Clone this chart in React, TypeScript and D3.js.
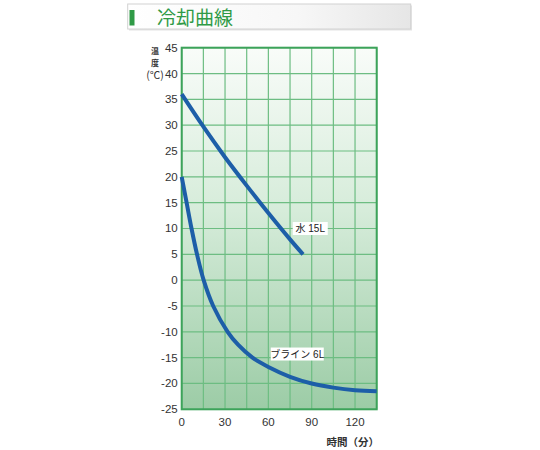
import { useEffect, useRef } from 'react'
import * as d3 from 'd3'

// time (min) / temperature (°C)
const waterTime = [0, 15, 30, 45, 60, 75, 84]
const waterTemp = [36, 29.7, 23.8, 18.3, 13, 7.9, 5]
const brineTime = [0, 3.4, 6.8, 10.6, 15.2, 21.8, 31.8, 39, 49, 60, 75, 90, 105, 120, 135]
const brineTemp = [20, 15, 10, 5, 0, -5, -10, -12.5, -15, -16.8, -18.7, -20, -20.8, -21.3, -21.5]

const xTicks = [0, 30, 60, 90, 120]
const yTicks = [45, 40, 35, 30, 25, 20, 15, 10, 5, 0, -5, -10, -15, -20, -25]
const xGridTicks = [0, 15, 30, 45, 60, 75, 90, 105, 120, 135]

const seriesLabels = [
  { text: '水 15L', t: 89, v: 10, w: 35 },
  { text: 'ブライン 6L', t: 80, v: -14.3, w: 53 },
]

const FONT = '"Liberation Sans", "Noto Sans CJK JP", sans-serif'
const JP = '"Noto Sans CJK JP", sans-serif'

export default function App() {
  const svgRef = useRef<SVGSVGElement>(null)

  useEffect(() => {
    if (!svgRef.current) return
    const svg = d3.select(svgRef.current)
    svg.selectAll('*').remove()

    const W = 540
    const H = 450
    const margin = { top: 47.7, left: 181.7, right: 540 - 376.7, bottom: 450 - 409.3 }
    const w = W - margin.left - margin.right
    const h = H - margin.top - margin.bottom

    svg.attr('width', W).attr('height', H)

    const defs = svg.append('defs')
    const bg = defs.append('linearGradient').attr('id', 'plotbg')
      .attr('x1', 0).attr('y1', 0).attr('x2', 0).attr('y2', 1)
    bg.append('stop').attr('offset', '0%').attr('stop-color', '#f9fcf9')
    bg.append('stop').attr('offset', '45%').attr('stop-color', '#d6ecda')
    bg.append('stop').attr('offset', '100%').attr('stop-color', '#9ccca6')

    const tb = defs.append('linearGradient').attr('id', 'titlebg')
      .attr('x1', 0).attr('y1', 0).attr('x2', 1).attr('y2', 0)
    tb.append('stop').attr('offset', '0%').attr('stop-color', '#ffffff')
    tb.append('stop').attr('offset', '60%').attr('stop-color', '#f7f7f7')
    tb.append('stop').attr('offset', '100%').attr('stop-color', '#e6e6e6')

    // Title bar
    svg.append('rect').attr('x', 129).attr('y', 5.5).attr('width', 283).attr('height', 25)
      .attr('fill', '#e4e4e4')
    svg.append('rect').attr('x', 127.7).attr('y', 4).attr('width', 283).attr('height', 25)
      .attr('fill', 'url(#titlebg)').attr('stroke', '#d2d2d2').attr('stroke-width', 1)
    svg.append('rect').attr('x', 129.5).attr('y', 10).attr('width', 5).attr('height', 15.5)
      .attr('fill', '#2f9a46')
    svg.append('text').attr('x', 157).attr('y', 24.5)
      .attr('font-family', JP).attr('font-size', 19).attr('fill', '#2f9a46')
      .text('冷却曲線')

    const x = d3.scaleLinear().domain([0, 135]).range([0, w])
    const y = d3.scaleLinear().domain([-25, 45]).range([h, 0])

    const g = svg.append('g').attr('transform', `translate(${margin.left},${margin.top})`)

    g.append('rect').attr('width', w).attr('height', h).attr('fill', 'url(#plotbg)')

    // Grid
    g.selectAll('.vg').data(xGridTicks).join('line')
      .attr('x1', d => x(d)).attr('x2', d => x(d)).attr('y1', 0).attr('y2', h)
      .attr('stroke', '#6dbd82').attr('stroke-width', 1.2)
    g.selectAll('.hg').data(yTicks).join('line')
      .attr('y1', d => y(d)).attr('y2', d => y(d)).attr('x1', 0).attr('x2', w)
      .attr('stroke', '#6dbd82').attr('stroke-width', 1.2)
    g.append('rect').attr('width', w).attr('height', h).attr('fill', 'none')
      .attr('stroke', '#3da35a').attr('stroke-width', 2)

    // Tick labels
    g.selectAll('.yl').data(yTicks).join('text')
      .attr('x', -4).attr('y', d => y(d) + 4)
      .attr('text-anchor', 'end').attr('font-family', FONT).attr('font-size', 11.5)
      .attr('fill', '#333').text(d => String(d))
    g.selectAll('.xl').data(xTicks).join('text')
      .attr('x', d => x(d)).attr('y', h + 17)
      .attr('text-anchor', 'middle').attr('font-family', FONT).attr('font-size', 11.5)
      .attr('fill', '#333').text(d => String(d))

    // Axis titles
    svg.append('text').attr('x', 155).attr('y', 54).attr('text-anchor', 'middle')
      .attr('font-family', JP).attr('font-size', 8).attr('font-weight', 'bold').attr('fill', '#333').text('温')
    svg.append('text').attr('x', 155).attr('y', 65.5).attr('text-anchor', 'middle')
      .attr('font-family', JP).attr('font-size', 8).attr('font-weight', 'bold').attr('fill', '#333').text('度')
    svg.append('text').attr('x', 155).attr('y', 79).attr('text-anchor', 'middle')
      .attr('font-family', JP).attr('font-size', 10.5).attr('fill', '#333').text('(℃)')
    svg.append('text').attr('x', 379).attr('y', 446).attr('text-anchor', 'end')
      .attr('font-family', JP).attr('font-size', 10.5).attr('font-weight', 'bold').attr('fill', '#333')
      .text('時間（分）')

    // Curves
    const line = d3.line<[number, number]>()
      .x(d => x(d[0])).y(d => y(d[1])).curve(d3.curveCatmullRom.alpha(0.5))
    const water = waterTime.map((t, i) => [t, waterTemp[i]] as [number, number])
    const brine = brineTime.map((t, i) => [t, brineTemp[i]] as [number, number])
    ;[water, brine].forEach(pts => {
      g.append('path').datum(pts).attr('d', line)
        .attr('fill', 'none').attr('stroke', '#1d5ea8').attr('stroke-width', 4)
        .attr('stroke-linecap', 'butt')
    })

    // Series labels
    seriesLabels.forEach(l => {
      const cx = x(l.t)
      const cy = y(l.v)
      g.append('rect').attr('x', cx - l.w / 2).attr('y', cy - 6.5).attr('width', l.w).attr('height', 13)
        .attr('fill', '#ffffff')
      g.append('text').attr('x', cx).attr('y', cy + 4).attr('text-anchor', 'middle')
        .attr('font-family', FONT).attr('font-size', 10).attr('fill', '#222')
        .text(l.text)
    })
  }, [])

  return (
    <div style={{ position: 'absolute', left: 0, top: 0, width: 540, height: 450, background: '#fff' }}>
      <svg ref={svgRef} />
    </div>
  )
}
